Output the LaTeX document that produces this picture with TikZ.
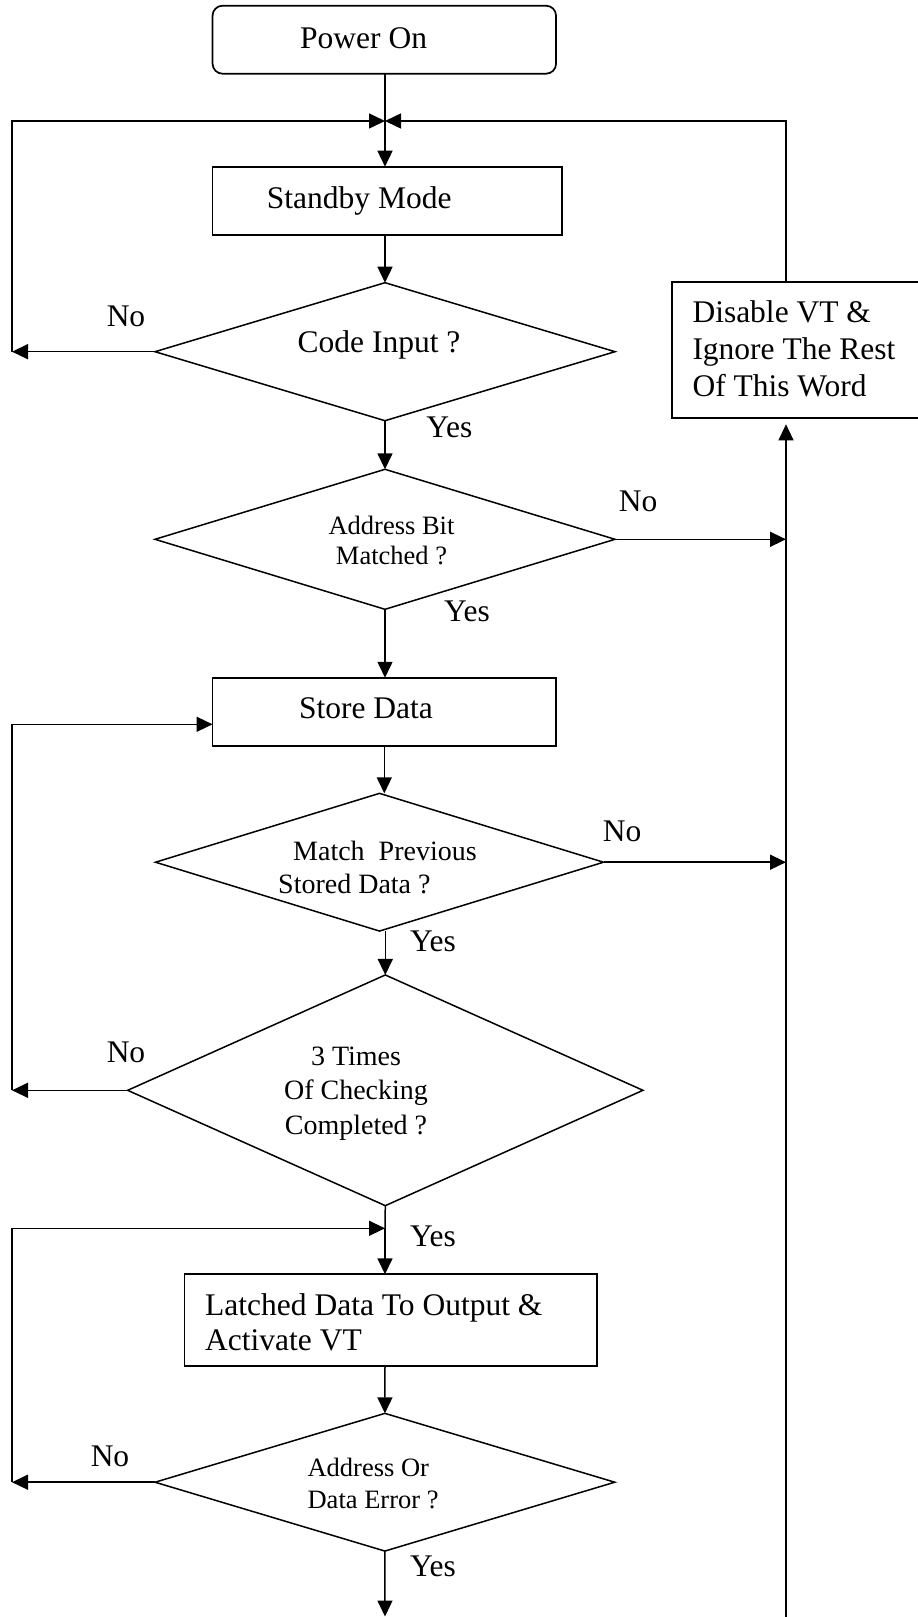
\documentclass[tikz,border=0pt]{standalone}
\usepackage{fontspec}
\setmainfont{Liberation Serif}
\usetikzlibrary{arrows.meta,shapes.geometric}
\begin{document}
\begin{tikzpicture}[x=1pt,y=-1pt,
  ln/.style={line width=1.5pt},
  arr/.style={line width=1.5pt,-{Triangle[length=16pt,width=15pt]}},
  thinarr/.style={line width=1.1pt,-{Triangle[length=16pt,width=15pt]}},
  box/.style={draw,line width=1.7pt,inner sep=0pt,outer sep=0pt},
  dec/.style={draw,diamond,line width=1.5pt,inner sep=0pt,outer sep=0pt},
  big/.style={inner sep=0pt,font=\fontsize{31.5pt}{37pt}\selectfont},
  mid/.style={inner sep=0pt,font=\fontsize{26.5pt}{30pt}\selectfont},
  med/.style={inner sep=0pt,font=\fontsize{28pt}{33.5pt}\selectfont}
]
\path[use as bounding box] (0,0) rectangle (918,1617);
\clip (0,0) rectangle (918,1617);

% shapes
\node[box,rounded corners=10pt,minimum width=343.5pt,minimum height=68pt] (pow) at (384.3,39.7) {};
\node[box,minimum width=349.5pt,minimum height=68.6pt] (stb) at (387.3,201) {};
\node[dec,minimum width=460pt,minimum height=138pt] (d1) at (385,351.7) {};
\node[dec,minimum width=460pt,minimum height=140pt] (d2) at (385,539.3) {};
\node[box,minimum width=343.5pt,minimum height=68.3pt] (sto) at (384.3,711.9) {};
\node[dec,minimum width=448pt,minimum height=137.7pt] (d3) at (379.5,862.2) {};
\node[dec,minimum width=515.3pt,minimum height=230.7pt] (d4) at (385.3,1090.3) {};
\node[box,minimum width=412.8pt,minimum height=91.4pt] (lat) at (390.8,1320) {};
\node[dec,minimum width=459.7pt,minimum height=137.7pt] (d5) at (384.9,1482.2) {};
\node[box,minimum width=263.3pt,minimum height=136pt] (dis) at (803.35,350.3) {};

% helper coordinates
\coordinate (m1) at (385,121);
\coordinate (m2) at (385,1228.3);
\coordinate (lx) at (12,0);
\coordinate (lb) at (12,724.3);
\coordinate (rx) at (786,1616.5);
\coordinate (bot) at (385,1616.5);

% texts
\node[big,anchor=base] (tpow) at (363.6,48.5) {Power On};
\node[big,anchor=base] (tstb) at (359.2,208.3) {Standby Mode};
\node[big,anchor=base] (td1) at (379,352.5) {Code Input ?};
\node[big,anchor=base] (no1) at (126,326.7) {No};
\node[big,anchor=base] (yes1) at (449.4,437.7) {Yes};
\node[mid,align=center] (td2) at (391.5,540.9) {Address Bit\\Matched ?};
\node[big,anchor=base] (no2) at (638,511) {No};
\node[big,anchor=base] (yes2) at (467,621.5) {Yes};
\node[big,anchor=base] (tsto) at (366,718.3) {Store Data};
\node[med,align=left,anchor=west] (td3) at (278,867.5) {\hspace*{15pt}Match\ \ Previous\\Stored Data ?};
\node[big,anchor=base] (no3) at (622,841.5) {No};
\node[big,anchor=base] (yes3) at (433,951.5) {Yes};
\node[inner sep=0pt,font=\fontsize{28pt}{34.7pt}\selectfont,align=center] (td4) at (356,1093.5) {3 Times\\Of Checking\\Completed ?};
\node[big,anchor=base] (no4) at (126,1062.5) {No};
\node[big,anchor=base] (yes4) at (433,1246) {Yes};
\node[inner sep=0pt,font=\fontsize{31.5pt}{35pt}\selectfont,align=left,anchor=west] (tlat) at (205,1322.75) {Latched Data To Output \&\\Activate VT};
\node[inner sep=0pt,font=\fontsize{26.5pt}{31.3pt}\selectfont,align=left,anchor=west] (td5) at (307.4,1483.6) {Address Or\\Data Error ?};
\node[big,anchor=base] (no5) at (110,1466.5) {No};
\node[big,anchor=base] (yes5) at (433,1576.5) {Yes};
\node[big,align=left,anchor=west] (tdis) at (692.3,349) {Disable VT \&\\Ignore The Rest\\Of This Word};

% connectors
\draw[ln] (pow.south -| m1) -- (m1);
\draw[arr] (m1) -- (m1 |- stb.north);
\draw[arr] (stb.south -| m1) -- (d1.north);
\draw[arr] (d1.west) -- (d1.west -| lx);
\draw[arr] (d1.west -| lx) -- (lx |- m1) -- (m1);
\draw[arr] (dis.north -| rx) -- (rx |- m1) -- (m1);
\draw[arr] (d1.south) -- (d2.north);
\draw[arr] (d2.east) -- (d2.east -| rx);
\draw[arr] (d2.south) -- (d2.south |- sto.north);
\draw[arr] (sto.south) -- (sto.south |- d3.north);
\draw[arr] (d3.east) -- (d3.east -| rx);
\draw[arr] (d3.south -| d4.north) -- (d4.north);
\draw[arr] (d4.west) -- (d4.west -| lx);
\draw[arr] (d4.west -| lx) -- (lb) -- (sto.west |- lb);
\draw[ln] (d4.south) -- (m2);
\draw[arr] (m2) -- (m2 |- lat.north);
\draw[arr] (d5.west) -- (d5.west -| lx);
\draw[arr] (d5.west -| lx) -- (lx |- m2) -- (m2);
\draw[arr] (lat.south -| m2) -- (d5.north);
\draw[arr] (d5.south) -- (bot);
\draw[thinarr,shorten >=6pt] (rx) -- (dis.south -| rx);
\end{tikzpicture}
\end{document}
